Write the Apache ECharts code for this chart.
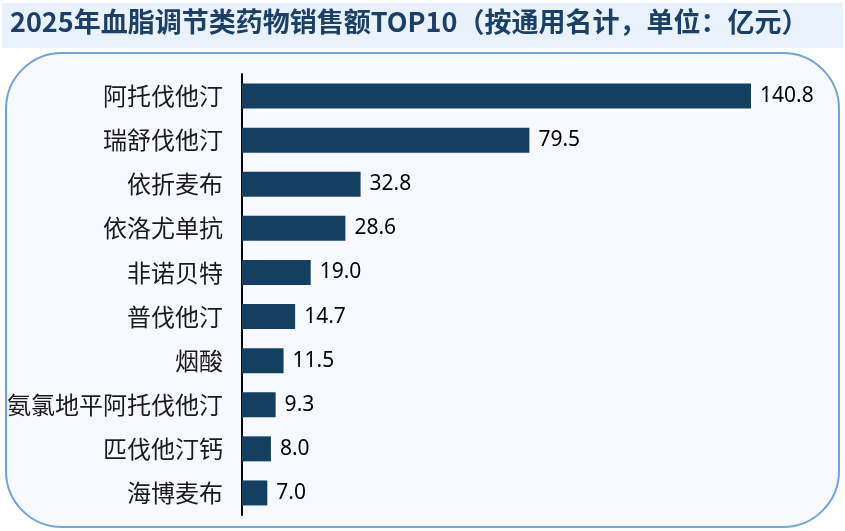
<!DOCTYPE html>
<html>
<head>
<meta charset="utf-8">
<script src="https://cdn.jsdelivr.net/npm/echarts@6/dist/echarts.min.js"></script>
<style>
  html, body { margin: 0; padding: 0; background: #ffffff; }
  #main { width: 845px; height: 531px; }
</style>
</head>
<body>
<div id="main"></div>
<script>
var titleText = '2025年血脂调节类药物销售额TOP10（按通用名计，单位：亿元）';
// 从上到下
var drugs = ['阿托伐他汀', '瑞舒伐他汀', '依折麦布', '依洛尤单抗', '非诺贝特',
  '普伐他汀', '烟酸', '氨氯地平阿托伐他汀', '匹伐他汀钙', '海博麦布'];
var sales = [140.8, 79.5, 32.8, 28.6, 19.0, 14.7, 11.5, 9.3, 8.0, 7.0];

var myChart = echarts.init(document.getElementById('main'));

myChart.setOption({
    backgroundColor: '#ffffff',
    animation: false,
    graphic: [
        {
            type: 'rect',
            shape: { x: 2, y: 3, width: 841, height: 45 },
            style: { fill: '#e9f2fc' },
            z: -10
        },
        {
            type: 'text',
            left: 10,
            top: 8,
            style: {
                text: titleText,
                fill: '#1b3f66',
                font: 'bold 27px "Noto Sans CJK SC"'
            }
        },
        {
            type: 'rect',
            shape: { x: 6, y: 53, width: 833, height: 474, r: 56 },
            style: { fill: '#f7f9fe', stroke: '#72a3da', lineWidth: 2 },
            z: -10
        }
    ],
    grid: {
        left: 242,
        width: 509,
        top: 74,
        height: 441
    },
    xAxis: {
        type: 'value',
        min: 0,
        max: 140.8,
        show: false
    },
    yAxis: {
        type: 'category',
        inverse: true,
        data: drugs,
        axisLine: { show: true, lineStyle: { color: '#000000', width: 2 } },
        axisTick: { show: false },
        axisLabel: {
            margin: 19,
            color: '#1a1a1a',
            fontSize: 24,
            fontFamily: 'Noto Sans CJK SC'
        }
    },
    series: [{
        type: 'bar',
        data: sales,
        barWidth: 25,
        itemStyle: { color: '#153f61' },
        label: {
            show: true,
            position: 'right',
            distance: 9,
            color: '#000000',
            fontSize: 21,
            fontFamily: 'Noto Sans',
            formatter: function (p) { return p.value.toFixed(1); }
        }
    }]
});
</script>
</body>
</html>
